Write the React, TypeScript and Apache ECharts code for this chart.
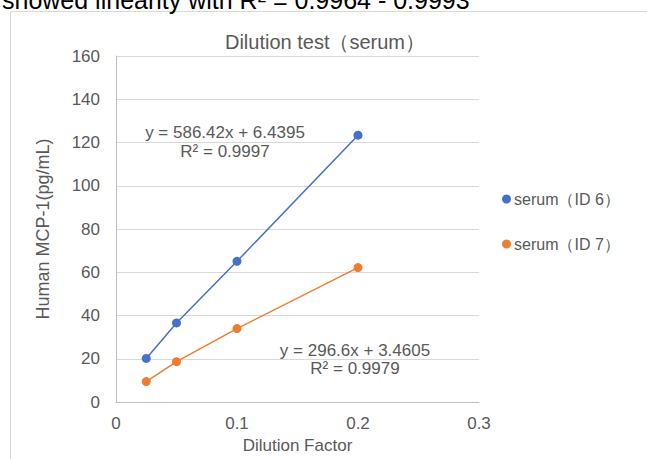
import React, { useEffect, useRef } from "react";
import * as echarts from "echarts";

const xDilution = [0.025, 0.05, 0.1, 0.2];
const serumId6 = [20.2, 36.6, 65.1, 123.4];
const serumId7 = [9.5, 18.7, 34.0, 62.2];
const seriesNames = ["serum（ID 6）", "serum（ID 7）"];
const eq6 = ["y = 586.42x + 6.4395", "R² = 0.9997"];
const eq7 = ["y = 296.6x + 3.4605", "R² = 0.9979"];
const headerText = "showed linearity with R² = 0.9964 - 0.9993";

const FONT = "'Liberation Sans', Arial, sans-serif";
const GREY = "#595959";

export default function App() {
  const ref = useRef<HTMLDivElement>(null);
  useEffect(() => {
    if (!ref.current) return;
    const chart = echarts.init(ref.current, undefined, { renderer: "svg" });
    const pts = (ys: number[]) => xDilution.map((x, i) => [x, ys[i]]);
    const eqText = (t: string, x: number, y: number) => ({
      type: "text",
      x,
      y,
      style: { text: t, fontSize: 17, fill: GREY, fontFamily: FONT, align: "center", verticalAlign: "middle" },
    });
    chart.setOption({
      animation: false,
      backgroundColor: "#ffffff",
      textStyle: { fontFamily: FONT },
      title: {
        text: "Dilution test（serum）",
        left: 320,
        textAlign: "center",
        top: 27,
        textStyle: { fontSize: 20, fontWeight: "normal", color: GREY, fontFamily: FONT },
      },
      legend: {
        orient: "vertical",
        left: 497,
        top: 186,
        itemGap: 29,
        itemWidth: 9,
        itemHeight: 9,
        icon: "circle",
        textStyle: { fontSize: 16, lineHeight: 16, color: GREY, fontFamily: FONT, padding: [0, 0, 0, -2] },
        data: seriesNames,
      },
      grid: { left: 116, right: 168, top: 56, bottom: 55, containLabel: false },
      xAxis: {
        type: "value",
        min: 0,
        max: 0.3,
        interval: 0.1,
        name: "Dilution Factor",
        nameLocation: "middle",
        nameGap: 34,
        nameTextStyle: { fontSize: 17, color: GREY, fontFamily: FONT },
        axisLine: { show: true, lineStyle: { color: "#bfbfbf" } },
        axisTick: { show: false },
        splitLine: { show: false },
        axisLabel: { fontSize: 17, color: GREY, margin: 13, fontFamily: FONT },
      },
      yAxis: {
        type: "value",
        min: 0,
        max: 160,
        interval: 20,
        name: "Human MCP-1(pg/mL)",
        nameLocation: "middle",
        nameGap: 64,
        nameRotate: 90,
        nameTextStyle: { fontSize: 18, color: GREY, fontFamily: FONT },
        axisLine: { show: true, lineStyle: { color: "#bfbfbf" } },
        axisTick: { show: false },
        splitLine: { show: true, lineStyle: { color: "#d9d9d9" } },
        axisLabel: { fontSize: 17, color: GREY, margin: 16, fontFamily: FONT },
      },
      series: [
        {
          name: seriesNames[0],
          type: "line",
          data: pts(serumId6),
          symbol: "circle",
          symbolSize: 9,
          color: "#4472C4",
          lineStyle: { width: 1.5, color: "#4472C4" },
        },
        {
          name: seriesNames[1],
          type: "line",
          data: pts(serumId7),
          symbol: "circle",
          symbolSize: 9,
          color: "#ED7D31",
          lineStyle: { width: 1.5, color: "#ED7D31" },
        },
      ],
      graphic: [
        {
          type: "rect",
          shape: { x: 10.5, y: 11.5, width: 700, height: 500 },
          style: { fill: "none", stroke: "#d9d9d9", lineWidth: 1 },
          silent: true,
          z: -1,
        },
        {
          type: "text",
          x: 2,
          y: 12,
          style: { text: headerText, fontSize: 25, fill: "#000000", fontFamily: FONT, verticalAlign: "bottom" },
        },
        eqText(eq6[0], 225, 132),
        eqText(eq6[1], 225, 151),
        eqText(eq7[0], 355, 350),
        eqText(eq7[1], 355, 368),
      ],
    });
    return () => chart.dispose();
  }, []);
  return <div ref={ref} style={{ position: "fixed", left: 0, top: 0, width: 647, height: 459 }} />;
}
